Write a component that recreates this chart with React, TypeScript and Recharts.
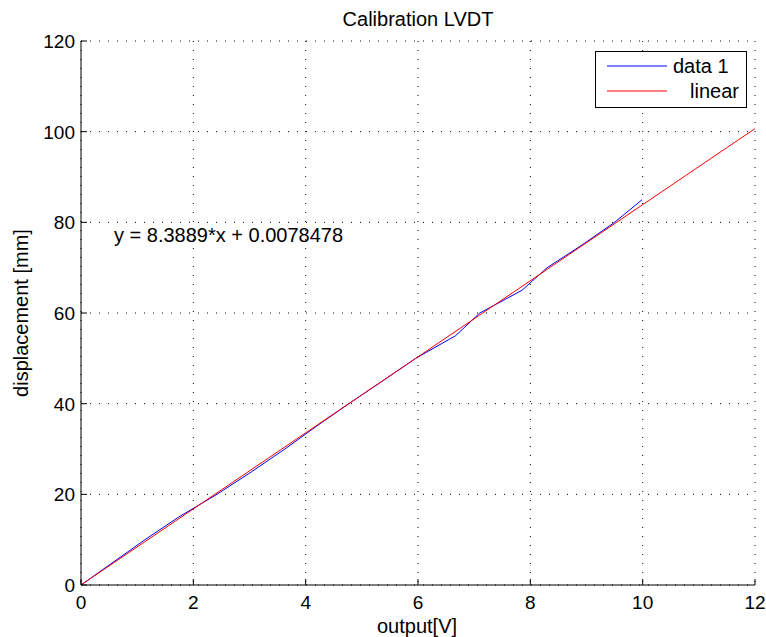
import {
  LineChart,
  Line,
  XAxis,
  YAxis,
  CartesianGrid,
  Legend,
  ReferenceDot,
  Label,
} from "recharts";

// measured LVDT output (V) vs displacement (mm)
const outputV = [0, 0.57, 1.14, 1.74, 2.42, 3.04, 3.63, 4.19, 4.77, 5.37, 5.96, 6.67, 7.1, 7.85, 8.3, 8.92, 9.5, 9.99];
const displacement = [0, 5, 10, 15, 20, 25, 30, 35, 40, 45, 50, 55, 60, 65, 70, 75, 80, 85];

// linear fit endpoints
const fitX = [0, 12];
const fitY = [0.0078478, 100.6746];

const xTicks = [0, 2, 4, 6, 8, 10, 12];
const yTicks = [0, 20, 40, 60, 80, 100, 120];

const fitText = "y = 8.3889*x + 0.0078478";

const measured = outputV.map((v, i) => ({ x: v, y: displacement[i] }));
const fit = fitX.map((v, i) => ({ x: v, y: fitY[i] }));

const FONT = '"Liberation Sans", Arial, Helvetica, sans-serif';

function BottomTick(props: any) {
  const { x, y, payload } = props;
  return (
    <g>
      <line x1={x} y1={y} x2={x} y2={y - 6} stroke="#000" />
      <text x={x} y={y + 24} textAnchor="middle" fontSize={19} fontFamily={FONT} fill="#000">
        {payload.value}
      </text>
    </g>
  );
}

function TopTick(props: any) {
  const { x, y } = props;
  return <line x1={x} y1={y} x2={x} y2={y + 6} stroke="#000" />;
}

function LeftTick(props: any) {
  const { x, y, payload } = props;
  return (
    <g>
      <line x1={x} y1={y} x2={x + 6} y2={y} stroke="#000" />
      <text x={x - 6} y={y} dy="0.36em" textAnchor="end" fontSize={19} fontFamily={FONT} fill="#000">
        {payload.value}
      </text>
    </g>
  );
}

function RightTick(props: any) {
  const { x, y } = props;
  return <line x1={x} y1={y} x2={x - 6} y2={y} stroke="#000" />;
}

function renderLegend() {
  return (
    <svg width={152} height={57} style={{ display: "block" }}>
      <rect x={0.5} y={0.5} width={151} height={56} fill="#fff" stroke="#000" />
      <line x1={12} y1={15} x2={72} y2={15} stroke="#0000ff" />
      <text x={78} y={22} fontSize={20} fontFamily={FONT} fill="#000">data 1</text>
      <line x1={12} y1={40} x2={72} y2={40} stroke="#ff0000" />
      <text x={95} y={47} fontSize={20} fontFamily={FONT} fill="#000">linear</text>
    </svg>
  );
}

// y label plus the chart title (plot spans 81..755 horizontally)
function leftLabel(p: any) {
  const cy = p.viewBox.y + p.viewBox.height / 2;
  return (
    <g>
      <text
        x={28}
        y={cy}
        transform={`rotate(-90, 28, ${cy})`}
        textAnchor="middle"
        fontSize={20}
        fontFamily={FONT}
        fill="#000"
      >
        displacement [mm]
      </text>
      <text x={418} y={p.viewBox.y - 15} textAnchor="middle" fontSize={20} fontFamily={FONT} fill="#000">
        Calibration LVDT
      </text>
    </g>
  );
}

export default function App() {
  return (
    <div style={{ position: "absolute", left: 0, top: 0, background: "#fff" }}>
      <LineChart width={766} height={637} margin={{ top: 41, right: 11, bottom: 22, left: 0 }}>
        <CartesianGrid stroke="#000" strokeDasharray="1 8" />
        <XAxis
          dataKey="x"
          type="number"
          domain={[0, 12]}
          ticks={xTicks}
          interval={0}
          height={30}
          tickSize={0}
          tickMargin={0}
          tickLine={false}
          tick={<BottomTick />}
          axisLine={{ stroke: "#000" }}
        >
          <Label
            content={(p: any) => (
              <text
                x={p.viewBox.x + p.viewBox.width / 2 - 1}
                y={p.viewBox.y + 48}
                textAnchor="middle"
                fontSize={20}
                fontFamily={FONT}
                fill="#000"
              >
                output[V]
              </text>
            )}
          />
        </XAxis>
        <XAxis
          xAxisId="top"
          orientation="top"
          type="number"
          domain={[0, 12]}
          ticks={xTicks}
          interval={0}
          height={0}
          tickSize={0}
          tickMargin={0}
          tickLine={false}
          tick={<TopTick />}
          axisLine={{ stroke: "#000" }}
        />
        <YAxis
          type="number"
          domain={[0, 120]}
          ticks={yTicks}
          interval={0}
          width={81}
          tickSize={0}
          tickMargin={0}
          tickLine={false}
          tick={<LeftTick />}
          axisLine={{ stroke: "#000" }}
        >
          <Label content={leftLabel} />
        </YAxis>
        <YAxis
          yAxisId="right"
          orientation="right"
          type="number"
          domain={[0, 120]}
          ticks={yTicks}
          interval={0}
          width={0}
          tickSize={0}
          tickMargin={0}
          tickLine={false}
          tick={<RightTick />}
          axisLine={{ stroke: "#000" }}
        />
        <Line
          data={measured}
          dataKey="y"
          name="data 1"
          type="linear"
          stroke="#0000ff"
          strokeWidth={1}
          dot={false}
          isAnimationActive={false}
        />
        <Line
          data={fit}
          dataKey="y"
          name="linear"
          type="linear"
          stroke="#ff0000"
          strokeWidth={1}
          dot={false}
          isAnimationActive={false}
        />
        <ReferenceDot
          x={0.57}
          y={77.2}
          r={1}
          fill="none"
          stroke="none"
          label={{
            value: fitText,
            position: "right",
            offset: 0,
            fontSize: 20,
            fontFamily: FONT,
            fill: "#000",
          }}
        />
        <Legend
          content={renderLegend}
          layout="horizontal"
          verticalAlign="middle"
          align="center"
          wrapperStyle={{ left: 595, top: 51, width: 152, height: 57 }}
        />
      </LineChart>
    </div>
  );
}
